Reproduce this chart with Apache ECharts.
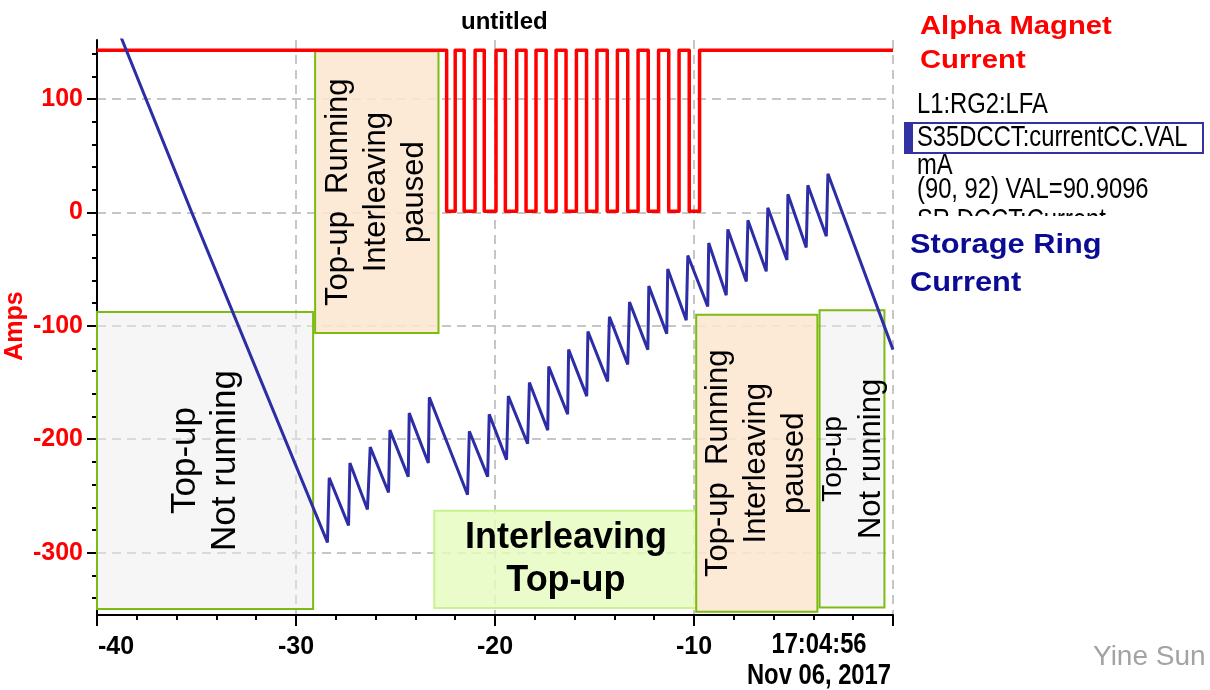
<!DOCTYPE html>
<html>
<head>
<meta charset="utf-8">
<script src="https://cdn.jsdelivr.net/npm/echarts@6/dist/echarts.min.js"></script>
<style>
  html, body { margin: 0; padding: 0; background: #ffffff; }
  #chart { width: 1210px; height: 690px; }
</style>
</head>
<body>
<div id="chart"></div>
<script>
// ---- axis ranges and tick values ----
const timeRange = [-40, 0];
const timeLabelValues = [-40, -30, -20, -10];
const stampLines = ['17:04:56', 'Nov 06, 2017'];
const ampsRange = [-355, 152];
const ampsName = 'Amps';
const ampsLabelValues = [-300, -200, -100, 0, 100];
const ampsMinorValues = [-340, -320, -280, -260, -240, -220, -180, -160, -140, -120,
                         -80, -60, -40, -20, 20, 40, 60, 80, 120, 140];

// ---- alpha magnet current: two levels and the switching times ----
const magnetHigh = 143;
const magnetLow = 1;
const magnetSwitchTimes = [-22.43, -22.00, -21.55, -21.00, -20.54, -19.95, -19.48, -18.91,
                           -18.44, -17.94, -17.43, -16.93, -16.43, -15.91, -15.40, -14.88,
                           -14.36, -13.85, -13.33, -12.81, -12.30, -11.78, -11.27, -10.75,
                           -10.24, -9.72];

// ---- storage ring current (time, value) ----
const ringCurrent = [
  [-40.00, 207], [-35.24, 0], [-28.42, -291],
  [-28.33, -234], [-27.36, -276], [-27.29, -221], [-26.41, -262],
  [-26.27, -207], [-25.35, -247], [-25.28, -192], [-24.36, -233],
  [-24.31, -177], [-23.35, -221], [-23.30, -163], [-21.38, -249],
  [-21.29, -193], [-20.37, -233], [-20.29, -178], [-19.42, -218],
  [-19.33, -162], [-18.36, -204], [-18.27, -150], [-17.35, -192],
  [-17.30, -136], [-16.35, -178], [-16.30, -121], [-15.39, -162],
  [-15.33, -105], [-14.34, -149], [-14.25, -92], [-13.33, -134],
  [-13.24, -79], [-12.32, -121], [-12.27, -65], [-11.37, -107],
  [-11.32, -50], [-10.39, -95], [-10.31, -38], [-9.31, -83],
  [-9.26, -27], [-8.38, -73], [-8.30, -15], [-7.37, -61],
  [-7.29, -7], [-6.37, -52], [-6.29, 4], [-5.33, -42],
  [-5.28, 16], [-4.36, -31], [-4.28, 24], [-3.35, -21],
  [-3.27, 34], [0.00, -121]
];

// ---- operating-mode regions: [time from, time to], [amps top, amps bottom] ----
const regionKinds = ['idle', 'paused', 'interleave', 'paused', 'idle'];
const regionTimes = [[-40.00, -29.14], [-29.04, -22.84], [-23.05, -9.82], [-9.89, -3.80], [-3.69, -0.43]];
const regionAmps = [[-87.8, -349.7], [142.0, -106.3], [-263.0, -348.8], [-90.2, -352.2], [-86.4, -348.4]];
const regionTexts = [
  ['Top-up', 'Not running'],
  ['Top-up  Running', 'Interleaving', 'paused'],
  ['Interleaving', 'Top-up'],
  ['Top-up  Running', 'Interleaving', 'paused'],
  ['Top-up', 'Not running']
];

// ---- side panel text ----
const magnetTitle = ['Alpha Magnet', 'Current'];
const ringTitle = ['Storage Ring', 'Current'];
const pvLines = ['L1:RG2:LFA', 'S35DCCT:currentCC.VAL', 'mA', '(90, 92) VAL=90.9096', 'SR DCCT:Current'];
const author = 'Yine Sun';

// ---------------------------------------------------------------
const SANS = "'Liberation Sans', Arial, sans-serif";
const RED = '#ff0000';
const BLUE = '#2d2da6';
const NARROW_SCALE = 0.82;

// step line for the magnet current
const magnetData = [[timeRange[0], magnetHigh]];
let level = magnetHigh;
magnetSwitchTimes.forEach(function (t) {
  magnetData.push([t, level]);
  level = (level === magnetHigh) ? magnetLow : magnetHigh;
  magnetData.push([t, level]);
});
magnetData.push([timeRange[1], level]);

const regionStyle = {
  idle:       { color: 'rgba(237,237,237,0.5)', borderColor: '#7cbb12', borderWidth: 2 },
  paused:     { color: 'rgba(252,231,210,0.88)', borderColor: '#7cbb12', borderWidth: 2 },
  interleave: { color: 'rgba(231,251,191,0.82)', borderColor: '#c9f28e', borderWidth: 2 }
};

function regionLabel(i) {
  const kind = regionKinds[i];
  const lines = regionTexts[i];
  if (kind === 'interleave') {
    return { show: true, position: 'inside', color: '#000', fontFamily: SANS,
             fontWeight: 'bold', fontSize: 36, lineHeight: 43,
             formatter: lines.join('\n') };
  }
  if (i === 0) {
    return { show: true, position: 'inside', rotate: 90, color: '#000', fontFamily: SANS,
             fontSize: 35, lineHeight: 40, formatter: lines.join('\n') };
  }
  if (kind === 'paused') {
    return { show: true, position: 'inside', rotate: 90, color: '#000', fontFamily: SANS,
             fontSize: 31, lineHeight: 38, formatter: lines.join('\n') };
  }
  return { show: true, position: 'inside', rotate: 90, color: '#000',
           formatter: '{a|' + lines[0] + '}\n{b|' + lines[1] + '}',
           rich: {
             a: { fontFamily: SANS, fontSize: 28, lineHeight: 38, color: '#000' },
             b: { fontFamily: SANS, fontSize: 31, lineHeight: 38, color: '#000' }
           } };
}

const regionData = regionKinds.map(function (kind, i) {
  return [
    { xAxis: regionTimes[i][0], yAxis: regionAmps[i][0],
      itemStyle: regionStyle[kind], label: regionLabel(i) },
    { xAxis: regionTimes[i][1], yAxis: regionAmps[i][1] }
  ];
});

const axisFont = { fontFamily: SANS, fontWeight: 'bold', fontSize: 25 };
const gridDash = { color: '#c6c6c6', width: 2, type: [9, 6] };
const plotRect = { left: 97, top: 40, width: 796, height: 575, outerBoundsMode: 'none', containLabel: false };

const chart = echarts.init(document.getElementById('chart'), null, { renderer: 'canvas' });

const sideText = [];
// vertical unit caption of the amps axis
sideText.push({ type: 'text', x: 15, y: 326, rotation: Math.PI / 2, z: 20,
  style: { text: ampsName, fill: RED, fontFamily: SANS, fontWeight: 'bold', fontSize: 25,
           align: 'center', verticalAlign: 'middle' } });
magnetTitle.forEach(function (t, i) {
  sideText.push({ type: 'text', x: 920, y: 27 + i * 34, scaleX: 1.17, z: 20,
    style: { text: t, fill: RED, fontFamily: SANS, fontWeight: 'bold', fontSize: 25,
             align: 'left', verticalAlign: 'middle' } });
});
ringTitle.forEach(function (t, i) {
  sideText.push({ type: 'text', x: 910, y: 246 + i * 38, scaleX: 1.14, z: 20,
    style: { text: t, fill: '#0b0b94', fontFamily: SANS, fontWeight: 'bold', fontSize: 27,
             align: 'left', verticalAlign: 'middle' } });
});
// highlighted PV entry frame
sideText.push({ type: 'rect', z: 10, shape: { x: 905, y: 123, width: 298, height: 30 },
  style: { fill: '#ffffff', stroke: '#3232a2', lineWidth: 2 } });
sideText.push({ type: 'rect', z: 11, shape: { x: 904, y: 122, width: 9, height: 32 },
  style: { fill: '#3232a2' } });
const pvY = [105, 138, 166, 190, 221];
pvLines.forEach(function (t, i) {
  sideText.push({ type: 'text', x: 917, y: pvY[i], z: 12, scaleX: NARROW_SCALE,
    style: { text: t, fill: '#000', fontFamily: SANS, fontSize: 29,
             align: 'left', verticalAlign: 'middle' } });
});
// the list is cut off below the fourth entry
sideText.push({ type: 'rect', z: 15, shape: { x: 900, y: 216, width: 310, height: 16 },
  style: { fill: '#ffffff' } });
sideText.push({ type: 'text', x: 1093, y: 657, z: 12,
  style: { text: author, fill: '#a3a3a3', fontFamily: SANS, fontSize: 28,
           align: 'left', verticalAlign: 'middle' } });
// timestamp under the right end of the time axis
stampLines.forEach(function (t, i) {
  sideText.push({ type: 'text', x: 819, y: 645 + i * 31, z: 12, scaleX: NARROW_SCALE,
    style: { text: t, fill: '#000', fontFamily: SANS, fontWeight: 'bold', fontSize: 29,
             align: 'center', verticalAlign: 'middle' } });
});

chart.setOption({
  animation: false,
  backgroundColor: '#ffffff',
  title: {
    text: 'untitled', left: 456, top: 5,
    textStyle: { color: '#000', fontFamily: SANS, fontWeight: 'bold', fontSize: 24 }
  },
  grid: [Object.assign({}, plotRect), Object.assign({}, plotRect)],
  xAxis: [
    {
      type: 'value', gridIndex: 0, min: timeRange[0], max: timeRange[1], interval: 10,
      axisLine: { onZero: false, lineStyle: { color: '#000', width: 2 } },
      axisTick: { length: 11, lineStyle: { color: '#000', width: 2 } },
      minorTick: { show: true, splitNumber: 5, length: 5, lineStyle: { color: '#000', width: 2 } },
      axisLabel: Object.assign({ color: '#000', margin: 20,
        formatter: function (v) {
          if (timeLabelValues.indexOf(v) < 0) return '';
          // the leftmost label sits inside the plot, starting at its tick
          return v === timeRange[0] ? '{first|' + v + '}' : String(v);
        },
        rich: { first: Object.assign({ color: '#000', padding: [0, 0, 0, 38] }, axisFont) }
      }, axisFont),
      splitLine: { show: true, lineStyle: gridDash }
    },
    {
      type: 'value', gridIndex: 1, min: timeRange[0], max: timeRange[1], show: false
    }
  ],
  yAxis: [
    {
      type: 'value', gridIndex: 0, position: 'left', min: ampsRange[0], max: ampsRange[1],
      axisLine: { show: true, onZero: false, lineStyle: { color: '#000', width: 2 } },
      axisTick: { show: true, length: 10, customValues: ampsLabelValues,
                  lineStyle: { color: '#000', width: 2 } },
      axisLabel: Object.assign({ color: RED, margin: 14, customValues: ampsLabelValues }, axisFont),
      splitLine: { show: true, lineStyle: gridDash }
    },
    {
      type: 'value', gridIndex: 1, position: 'left', min: ampsRange[0], max: ampsRange[1],
      axisLine: { show: false, onZero: false },
      axisTick: { show: true, length: 5, customValues: ampsMinorValues,
                  lineStyle: { color: '#000', width: 2 } },
      axisLabel: { show: false },
      splitLine: { show: false }
    }
  ],
  series: [
    {
      name: 'Alpha Magnet Current', type: 'line', data: magnetData,
      xAxisIndex: 0, yAxisIndex: 0, symbol: 'none', z: 3,
      lineStyle: { color: RED, width: 3.5, join: 'round' }
    },
    {
      name: 'Storage Ring Current', type: 'line', data: ringCurrent,
      xAxisIndex: 0, yAxisIndex: 0, symbol: 'none', z: 4,
      lineStyle: { color: BLUE, width: 3 }
    },
    {
      name: 'modes', type: 'line', data: [], z: 6, silent: true,
      xAxisIndex: 0, yAxisIndex: 0,
      markArea: { silent: true, data: regionData }
    }
  ],
  graphic: sideText
});
</script>
</body>
</html>
